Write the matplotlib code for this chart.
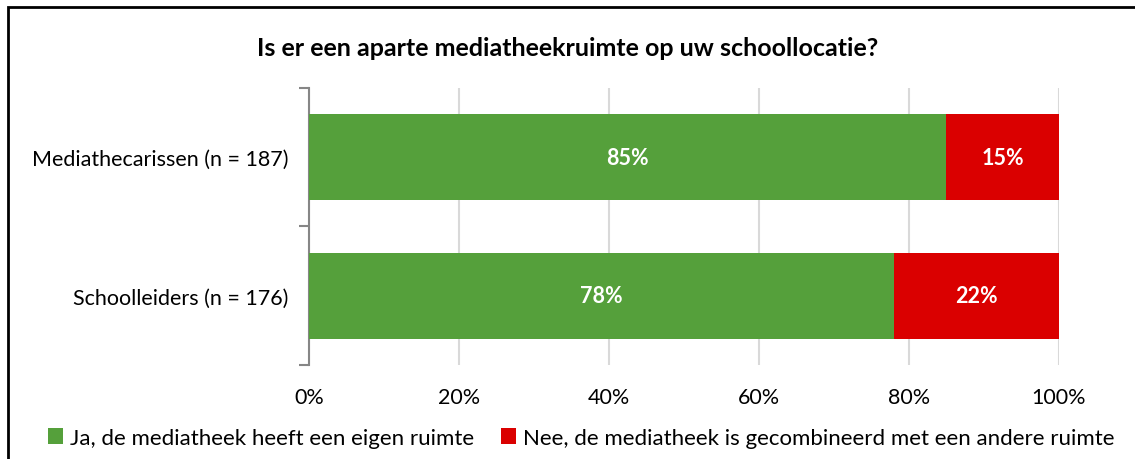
import matplotlib
matplotlib.use("Agg")
import matplotlib.pyplot as plt
from matplotlib.patches import Rectangle
import numpy as np

plt.rcParams['font.family'] = ['Lato', 'DejaVu Sans']

# data
categories = ["Mediathecarissen (n = 187)", "Schoolleiders (n = 176)"]
ja = [85, 78]
nee = [15, 22]
series_names = ["Ja, de mediatheek heeft een eigen ruimte",
                "Nee, de mediatheek is gecombineerd met een andere ruimte"]
xticks = [0, 20, 40, 60, 80, 100]

GREEN = '#55A03B'
RED = '#DA0000'
FS = 15.5

fig = plt.figure(figsize=(11.35, 4.6), dpi=100)
ax = fig.add_axes([0.2722, 0.2045, 0.6608, 0.6022])

y = np.arange(len(categories))
b1 = ax.barh(y, ja, height=0.62, color=GREEN, label=series_names[0], zorder=3)
b2 = ax.barh(y, nee, left=ja, height=0.62, color=RED, label=series_names[1], zorder=3)

for bars, vals, lefts in [(b1, ja, [0, 0]), (b2, nee, ja)]:
    for bar, v, l in zip(bars, vals, lefts):
        ax.text(l + v / 2, bar.get_y() + bar.get_height() / 2, f"{v}%",
                ha='center', va='center', color='white', fontsize=FS,
                fontweight='bold', zorder=4)

ax.set_xlim(0, 100)
ax.set_ylim(1.5, -0.5)
ax.set_xticks(xticks)
ax.set_xticklabels([f"{t}%" for t in xticks], fontsize=FS)
ax.set_yticks(y)
ax.set_yticklabels(categories, fontsize=FS)
ax.set_yticks([-0.5, 0.5, 1.5], minor=True)
ax.tick_params(axis='y', which='major', length=0, pad=15)
ax.tick_params(axis='y', which='minor', length=7, width=1.5, color='#868686')
ax.tick_params(axis='x', length=0, pad=16)
ax.grid(axis='x', color='#D9D9D9', linewidth=1.5, zorder=0)
for s in ['top', 'right', 'bottom']:
    ax.spines[s].set_visible(False)
ax.spines['left'].set_color('#868686')
ax.spines['left'].set_linewidth(1.5)

fig.text(0.5, 0.895, "Is er een aparte mediatheekruimte op uw schoollocatie?",
         ha='center', va='center', fontsize=18, fontweight='bold')

fig.legend(handles=[b1, b2], loc='center', bbox_to_anchor=(0.512, 0.046), ncol=2,
           frameon=False, fontsize=16, handlelength=0.7, handleheight=0.7,
           handletextpad=0.3, columnspacing=1.2)

fig.patches.append(Rectangle((0.007, -0.1), 1.1, 1.083, transform=fig.transFigure,
                             fill=False, edgecolor='black', linewidth=2))

fig.savefig("out.png", dpi=100)
